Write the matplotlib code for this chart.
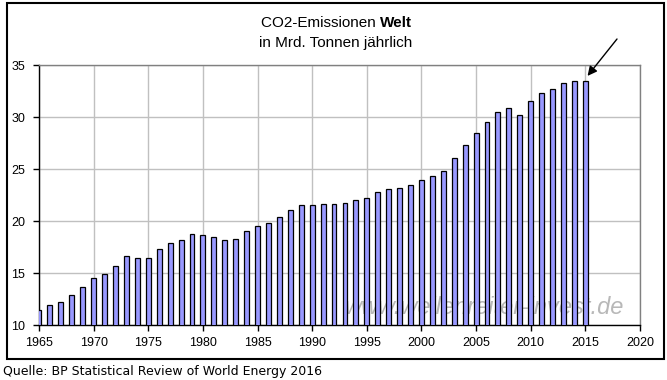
import matplotlib
matplotlib.use("Agg")
import matplotlib.pyplot as plt
from matplotlib.patches import Rectangle
from matplotlib.transforms import offset_copy

years = list(range(1965, 2016))
emissions = [11.4, 11.9, 12.2, 12.85, 13.7, 14.5, 14.95, 15.65, 16.6, 16.4,
             16.4, 17.35, 17.9, 18.15, 18.75, 18.65, 18.45, 18.15, 18.3, 19.0,
             19.5, 19.8, 20.4, 21.05, 21.55, 21.55, 21.6, 21.6, 21.7, 22.0,
             22.2, 22.75, 23.05, 23.15, 23.45, 23.9, 24.3, 24.85, 26.1, 27.35,
             28.5, 29.5, 30.45, 30.85, 30.15, 31.5, 32.3, 32.65, 33.25, 33.45,
             33.45]
xticks = list(range(1965, 2021, 5))
yticks = [10, 15, 20, 25, 30, 35]

W, H = 667, 380
fig = plt.figure(figsize=(W / 100, H / 100), dpi=100)
plt.rcParams['font.family'] = ['Liberation Sans', 'DejaVu Sans']

def fx(px):
    return px / W

def fy(py):
    return 1 - py / H

ax = fig.add_axes([fx(39), fy(325), fx(640) - fx(39), fy(65) - fy(325)])
ax.set_xlim(1965, 2020)
ax.set_ylim(10, 35)
ax.set_xticks(xticks)
ax.set_yticks(yticks)
ax.grid(True, color='#c0c0c0', linewidth=1.0, zorder=0)
ax.set_axisbelow(True)

ax.bar(years, emissions, width=0.45, bottom=0, color='#9999ff',
       edgecolor='black', linewidth=0.9, zorder=3)

for s in ['left', 'bottom']:
    ax.spines[s].set_color('black')
    ax.spines[s].set_linewidth(1.0)
for s in ['top', 'right']:
    ax.spines[s].set_color('#808080')
    ax.spines[s].set_linewidth(1.0)

ax.tick_params(axis='both', direction='out', length=4, width=1.0,
               labelsize=9, colors='black')
ax.tick_params(axis='x', pad=5)
ax.tick_params(axis='y', pad=6)

ax.text(fx(345), fy(308), 'www.wellenreiter-invest.de', transform=fig.transFigure,
        fontsize=17, style='italic', color='#b8b8b8', ha='left', va='center',
        zorder=2, family=['Liberation Sans', 'DejaVu Sans'])

# Title line 1, mixed weight, centered as a whole
t1 = fig.text(0, fy(23), 'CO2-Emissionen ', ha='left', va='center', fontsize=11)
t2 = fig.text(0, fy(23), 'Welt', ha='left', va='center', fontsize=11, weight='bold')
fig.canvas.draw()
r = fig.canvas.get_renderer()
w1 = t1.get_window_extent(r).width
w2 = t2.get_window_extent(r).width
total = w1 + w2
x0 = 336.5 - total / 2
t1.set_x(fx(x0))
t2.set_x(fx(x0 + w1))
fig.text(fx(335.5), fy(43), 'in Mrd. Tonnen jährlich', ha='center', va='center', fontsize=11)

ax.annotate('', xy=(2015.2, 33.95), xycoords='data',
            xytext=(fx(617), fy(39)), textcoords='figure fraction',
            arrowprops=dict(arrowstyle='-|>', color='black', lw=1.0,
                            mutation_scale=14, shrinkA=0, shrinkB=0),
            annotation_clip=False)

fig.patches.append(Rectangle((fx(7), fy(359)), fx(664) - fx(7), fy(3) - fy(359),
                             transform=fig.transFigure, fill=False,
                             edgecolor='black', linewidth=1.5))

fig.text(fx(3), fy(371), 'Quelle: BP Statistical Review of World Energy 2016',
         ha='left', va='center', fontsize=9, family='DejaVu Sans')

fig.savefig('out.png', dpi=100)
